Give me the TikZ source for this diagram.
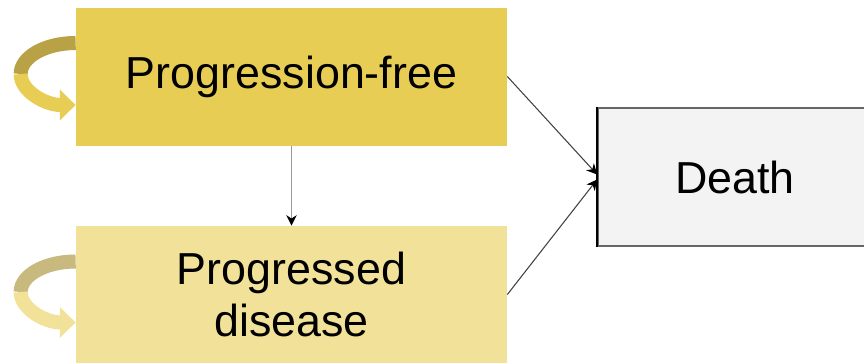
\documentclass[tikz,border=0pt]{standalone}
\usepackage{fontspec}
\setmainfont{Liberation Sans}
\usetikzlibrary{calc}
\usetikzlibrary{arrows.meta}
\definecolor{pfyellow}{HTML}{E8CD55}
\definecolor{pfdark}{HTML}{B8A245}
\definecolor{pdyellow}{HTML}{F2E198}
\definecolor{pddark}{HTML}{C8B97E}
\definecolor{deathgray}{HTML}{F3F3F3}
\tikzset{
  state/.style={rectangle,inner sep=0pt,align=center,minimum width=8.62cm,minimum height=2.76cm,
    font=\fontsize{25.5}{29.5}\selectfont},
  trans/.style={line width=0.6pt,black!75,-{Stealth[length=6pt,width=6pt,black]}},
  loopband/.style={line width=8pt},
}

\begin{document}
\begin{tikzpicture}
    \useasboundingbox (0,0) rectangle (17.28,7.26);
    \clip (0,0) rectangle (17.28,7.26);
    \node[state,fill=pfyellow] (PF) at (5.83,5.73) {Progression-free};
    \node[state,fill=pdyellow,minimum height=2.74cm] (PD) at (5.83,1.37) {Progressed\\disease};
    \node[state,fill=deathgray,draw=black!60,line width=1pt,minimum width=5.48cm] (D) at (14.70,3.72) {Death};
    \draw[black,line width=1.2pt] (D.north west) -- (D.south west);
    % staying in the same state
    \draw[loopband,pfdark] ([yshift=0.67cm]PF.west) arc[start angle=90,end angle=180,x radius=1.1cm,y radius=0.62cm];
    \draw[loopband,pfyellow,-{Triangle[length=9pt,width=17pt]}] ([yshift=0.67cm]PF.west) ++(-1.1,-0.62) arc[start angle=180,end angle=270,x radius=1.1cm,y radius=0.62cm];
    \draw[loopband,pddark] ([yshift=0.66cm]PD.west) arc[start angle=90,end angle=180,x radius=1.1cm,y radius=0.61cm];
    \draw[loopband,pdyellow,-{Triangle[length=9pt,width=17pt]}] ([yshift=0.66cm]PD.west) ++(-1.1,-0.61) arc[start angle=180,end angle=270,x radius=1.1cm,y radius=0.61cm];
    % transitions
    \draw[trans,black!40] (PF.south) -- (PD.north);
    \draw[trans] (PF.east) -- ($(D.west)+(0,0.05)$);
    \draw[trans] (PD.east) -- ($(D.west)+(0,-0.05)$);
\end{tikzpicture}
\end{document}
